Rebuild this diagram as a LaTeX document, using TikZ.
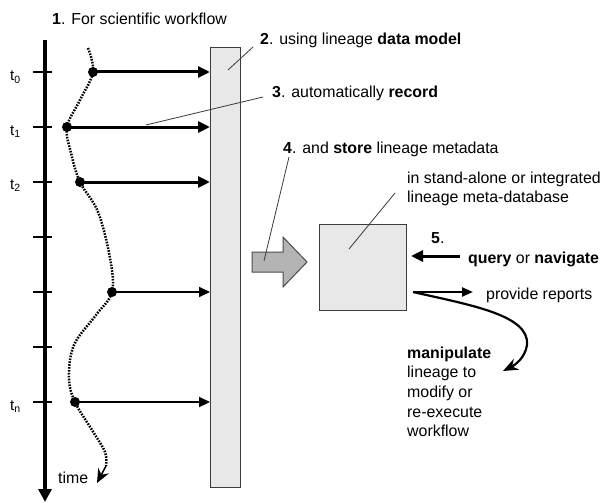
\documentclass[tikz,border=0pt]{standalone}
\usepackage{fontspec}
\setmainfont{Liberation Sans}
\usetikzlibrary{arrows.meta}
\definecolor{barfill}{HTML}{E8E8E8}
\definecolor{boxline}{HTML}{3C3C3C}
\definecolor{blockfill}{HTML}{B4B4B4}
\definecolor{leadcol}{HTML}{3A3A3A}
\begin{document}
\begin{tikzpicture}[x=1pt,y=-1pt,
  lbl/.style={inner sep=0pt, anchor=base west, font=\fontsize{15.9}{19.7}\selectfont},
  para/.style={inner sep=0pt, anchor=north west, align=left, font=\fontsize{15.9}{19.7}\selectfont},
  tlab/.style={inner sep=0pt, anchor=base west, font=\fontsize{15}{18}\selectfont},
  tick/.style={line width=1.3pt},
  dot/.style={circle, fill=black, inner sep=0pt, minimum size=10pt},
  bigarrow/.style={line width=3pt, -{Triangle[length=12pt,width=11pt]}},
  midarrow/.style={line width=2.2pt, -{Triangle[length=11pt,width=10pt]}},
  leader/.style={line width=0.8pt, draw=leadcol},
  panel/.style={draw=boxline, line width=1pt, fill=barfill, inner sep=0pt},
]
\useasboundingbox (0,0) rectangle (613,503);
\fill[white] (0,0) rectangle (613,503);

% time axis with ticks
\coordinate (axtop) at (45,40);
\coordinate (axbot) at (45,502);
\draw[line width=4pt, -{Triangle[length=13pt,width=13pt]}] (axtop) -- (axbot);
\foreach \y in {72,127,182,237,292,347,402}
  \draw[tick] (33,\y) -- (52,\y);

\node[tlab] (lt0) at (10,81) {t\textsubscript{0}};
\node[tlab] (lt1) at (10,135) {t\textsubscript{1}};
\node[tlab] (lt2) at (10,189) {t\textsubscript{2}};
\node[tlab] (ltn) at (10,410) {t\textsubscript{n}};

% lineage data model bar
\node[panel, anchor=north west, minimum width=30pt, minimum height=440pt] (bar) at (210,47) {};

% workflow events
\node[dot] (d0) at (93,72) {};
\node[dot] (d1) at (67,127) {};
\node[dot] (d2) at (80,182) {};
\node[dot] (d3) at (112,292) {};
\node[dot] (dn) at (75,402) {};

% workflow trajectory over time, ending in a solid tip
\coordinate (wstart) at (88,48);
\coordinate (wlast) at (106,466);
\coordinate (wend) at (97,483);
\draw[line width=2.5pt, dash pattern=on 1.6pt off 1.3pt]
  plot[smooth, tension=0.6] coordinates {(wstart) (d0.center) (80,100) (d1.center) (71,153) (d2.center) (98,212) (110,258) (d3.center) (96,315) (74,345) (69,378) (dn.center) (92,430) (105,452) (wlast)};
\draw[line width=1.5pt, -{Stealth[length=14pt,width=12pt]}] (wlast) -- (wend);

% recording arrows into the bar
\draw[bigarrow] (d0.center) -- (d0 -| bar.west);
\draw[bigarrow] (d1.center) -- (d1 -| bar.west);
\draw[bigarrow] (d2.center) -- (d2 -| bar.west);
\draw[midarrow] (d3.center) -- (d3 -| bar.west);
\draw[midarrow] (dn.center) -- (dn -| bar.west);

% captions
\node[lbl] (cap1) at (52,25) {\textbf{1}. For scientific workflow};
\node[lbl] (cap2) at (260,45) {\textbf{2}. using lineage \textbf{data model}};
\node[lbl] (cap3) at (272,97) {\textbf{3}. automatically \textbf{record}};
\node[lbl] (cap4) at (283,153) {\textbf{4}. and \textbf{store} lineage metadata};
\node[para] (capdb) at (407,171.3) {in stand-alone or integrated\\lineage meta-database};
\node[lbl] (cap5) at (431,243) {\textbf{5}.};
\node[lbl] (capq) at (468,263) {\textbf{query} or \textbf{navigate}};
\node[lbl] (capr) at (486,299) {provide reports};
\node[para] (capm) at (407,346.3) {\textbf{manipulate}\\lineage to\\modify or\\re-execute\\workflow};
\node[lbl] (captime) at (58,483) {time};

% leader lines
\coordinate (l2a) at (228,70);  \coordinate (l2b) at (253,47);
\coordinate (l3a) at (146,125); \coordinate (l3b) at (263,97);
\coordinate (l4a) at (289,157); \coordinate (l4b) at (264,261);
\coordinate (l5a) at (349,249); \coordinate (l5b) at (395,193);
\draw[leader] (l2a) -- (l2b);
\draw[leader] (l3a) -- (l3b);

% store arrow
\draw[draw=gray!60!black, line width=1pt, fill=blockfill]
  (252,252) -- (283,252) -- (283,237) -- (307,262) -- (283,287) -- (283,272) -- (252,272) -- cycle;
\draw[leader] (l4a) -- (l4b);

% lineage meta-database
\node[panel, anchor=north west, minimum width=87pt, minimum height=86pt] (db) at (319,224) {};
\draw[leader] (l5a) -- (l5b);

% query, report and manipulate arrows
\coordinate (q0) at (460,256);
\coordinate (q1) at (411,256);
\draw[bigarrow] (q0) -- (q1);
\coordinate (o0) at (413,292);
\coordinate (o1) at (473,292);
\draw[midarrow, -{Triangle[length=11pt,width=9pt]}] (o0) -- (o1);
\coordinate (m1) at (503,371);
\draw[line width=2.2pt, -{Stealth[length=15pt,width=12pt]}]
  (o0) .. controls (470,305) and (530,315) .. (527,345) .. controls (525,358) and (515,365) .. (m1);
\end{tikzpicture}
\end{document}
